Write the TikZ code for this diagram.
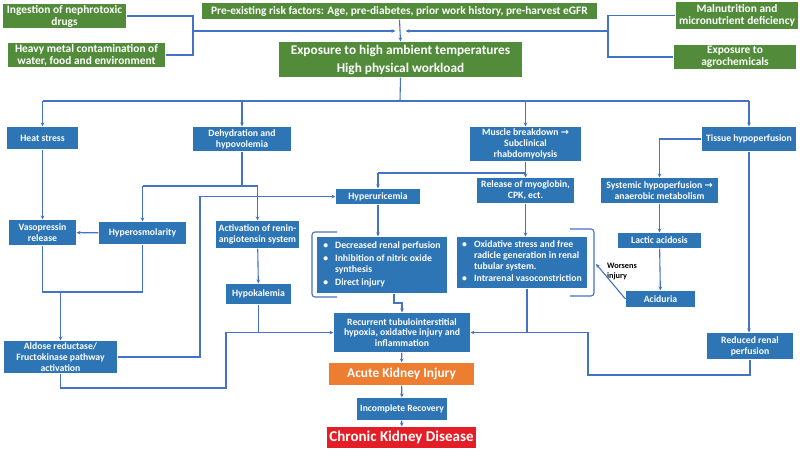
\documentclass[tikz,border=0pt]{standalone}
\usepackage{fontspec}
\setmainfont{Carlito}
\newfontfamily\arrowfont{DejaVu Sans}
\usepackage{xcolor}
\usetikzlibrary{arrows.meta,calc,positioning}

\definecolor{boxblue}{RGB}{46,117,182}
\definecolor{boxgreen}{RGB}{82,140,58}
\definecolor{lineblue}{RGB}{68,114,196}
\definecolor{akiorange}{RGB}{237,125,49}
\definecolor{ckdred}{RGB}{228,30,38}

\newcommand{\rarr}{{\arrowfont\bfseries\char"2192}}

\begin{document}
\begin{tikzpicture}[x=1pt,y=-1pt,>={Stealth[length=4pt,width=3.6pt]},
  line width=1.1pt,
  box/.style={fill=boxblue,text=white,font=\bfseries\fontsize{9.7}{10.8}\selectfont,
    align=center,inner sep=1pt,minimum width=#1},
  box/.default=60,
  green/.style={fill=boxgreen,text=white,font=\bfseries\fontsize{11.4}{12}\selectfont,
    align=center,inner sep=1pt,minimum width=#1},
  link/.style={draw=lineblue}]
\useasboundingbox (0,0) rectangle (800,452);

% top risk factors
\node[green=123,minimum height=24] (drugs) at (64.5,16) {Ingestion of nephrotoxic\\drugs};
\node[green=157,minimum height=24] (metal) at (86.5,55) {Heavy metal contamination of\\water, food and environment};
\node[green=395,minimum height=16] (risk) at (399.5,11) {Pre-existing risk factors: Age, pre-diabetes, prior work history, pre-harvest eGFR};
\node[green=243,minimum height=35,font=\bfseries\fontsize{13.3}{14}\selectfont] (expo) at (400.5,59.5)
  {Exposure to high ambient temperatures\\[4pt]High physical workload};
\node[green=122,minimum height=27] (malnut) at (737,15.5) {Malnutrition and\\micronutrient deficiency};
\node[green=122,minimum height=24] (agro) at (735,57) {Exposure to\\agrochemicals};

% first level
\node[box=71,minimum height=22] (heat) at (42.5,138) {Heat stress};
\node[box=98,minimum height=24] (dehyd) at (242,139) {Dehydration and\\hypovolemia};
\node[box=111,minimum height=34] (muscle) at (525.5,144) {Muscle breakdown \rarr\\Subclinical\\rhabdomyolysis};
\node[box=94,minimum height=24] (tissue) at (749,139) {Tissue hypoperfusion};

% second level
\node[box=67,minimum height=25] (vaso) at (42.5,232.5) {Vasopressin\\release};
\node[box=87,minimum height=22] (hyperosm) at (142.5,233) {Hyperosmolarity};
\node[box=83,minimum height=27] (activ) at (257.5,234.5) {Activation of renin-\\angiotensin system};
\node[box=65,minimum height=20] (hypok) at (258.5,294) {Hypokalemia};
\node[box=84,minimum height=15] (hyperu) at (378,196.5) {Hyperuricemia};
\node[box=97,minimum height=25] (release) at (525.5,190.5) {Release of myoglobin,\\CPK, ect.};
\node[box=117,minimum height=25] (systemic) at (659.5,190.5) {Systemic hypoperfusion \rarr\\anaerobic metabolism};
\node[box=83,minimum height=15] (lactic) at (659.5,240.5) {Lactic acidosis};
\node[box=69,minimum height=16] (aciduria) at (660.5,299) {Aciduria};

% mechanisms
\node[box=130,minimum height=56,align=left] (decr) at (382,265)
  {\begin{tabular}{@{}l@{\hspace{7pt}}l@{}}
   \textbullet & Decreased renal perfusion\\[2pt]
   \textbullet & Inhibition of nitric oxide\\
               & synthesis\\[2pt]
   \textbullet & Direct injury
   \end{tabular}};
\node[box=130,minimum height=51,align=left] (oxid) at (522,262.5)
  {\begin{tabular}{@{}l@{\hspace{7pt}}l@{}}
   \textbullet & Oxidative stress and free\\
               & radicle generation in renal\\
               & tubular system.\\[2pt]
   \textbullet & Intrarenal vasoconstriction
   \end{tabular}};
\node[box=113,minimum height=32] (aldose) at (60.5,357) {Aldose reductase/\\Fructokinase pathway\\activation};
\node[box=136,minimum height=39] (recur) at (402,332.5) {Recurrent tubulointerstitial\\hypoxia, oxidative injury and\\inflammation};
\node[box=86,minimum height=26] (reduced) at (750,346) {Reduced renal\\perfusion};

% outcome
\node[box=145,minimum height=22,fill=akiorange,font=\bfseries\fontsize{13.4}{15}\selectfont] (aki) at (401.5,374) {Acute Kidney Injury};
\node[box=90,minimum height=22,font=\bfseries\fontsize{9.6}{11}\selectfont] (incomp) at (402,409) {Incomplete Recovery};
\node[box=149,minimum height=21,fill=ckdred,font=\bfseries\fontsize{15}{17}\selectfont] (ckd) at (401.5,437.5) {Chronic Kidney Disease};

\node[font=\bfseries\fontsize{8.3}{10}\selectfont,align=left,inner sep=0pt] (worse) at (622,272) {Worsens\\injury};

% junctions
\coordinate (jl) at (193,31);
\coordinate (jr) at (608,31);
\coordinate (hub) at (400,101);
\coordinate (jd) at (242,186);
\coordinate (jv) at (60.5,292);
\coordinate (ja) at (200,0);
\coordinate (jb) at (226,388);
\coordinate (jm) at (525.5,173);
\coordinate (jc) at (394,303);
\coordinate (jo) at (527,0);
\coordinate (jr2) at (588,375);
\coordinate (brk) at (596,264);

% connectors
\draw[link] (drugs.east) -| (jl) |- (metal.east);
\draw[link,->] (jl) -- ([xshift=-4pt]risk.south |- jl);
\draw[link] (malnut.west) -| (jr) |- (agro.west);
\draw[link,->] (jr) -- ([xshift=6pt]risk.south |- jr);
\draw[link,->] (risk.south) -- (expo.north);
\draw[link] (expo.south) -- (hub);
\draw[link] (heat.north |- hub) -- (tissue.north |- hub);
\foreach \n in {heat,dehyd,muscle,tissue}
  \draw[link,->] (\n.north |- hub) -- (\n.north);
\draw[link,->] (heat) -- (vaso);
\draw[link] (dehyd.south) -- (jd);
\draw[link] (hyperosm.north |- jd) -- (activ.north |- jd);
\draw[link,->] (hyperosm.north |- jd) -- (hyperosm.north);
\draw[link,->] (activ.north |- jd) -- (activ.north);
\draw[link,->] (hyperosm) -- (vaso);
\draw[link] (vaso.south) |- (hyperosm.south |- jv) -- (hyperosm.south);
\draw[link,->] (jv) -- (aldose.north);
\draw[link,->] (activ) -- (hypok);
\draw[link,->] (aldose.east) -| (ja |- hyperu.west) -- (hyperu.west);
\draw[link,->] (aldose.south) |- (jb) |- (recur.west);
\draw[link] (hypok.south) -- (hypok.south |- recur.west);
\draw[link] (muscle.south) -- (jm);
\draw[link] (hyperu.north |- jm) -- (jm);
\draw[link,->] (hyperu.north |- jm) -- (hyperu.north);
\draw[link,->] (jm) -- (release.north);
\draw[link,->] (hyperu.south) -- (hyperu.south |- decr.north);
\draw[link,->] (decr.south -| jc) -- (jc) -| (recur.north);
\draw[link,->] (release.south) -- (release.south |- oxid.north);
\draw[link,->] (reduced.south) |- (jr2) |- (recur.east);
\draw[link] (oxid.south -| jo) -- (jo |- recur.east);
\draw[link,->] (tissue.west) -| (systemic.north);
\draw[link,->] (systemic) -- (lactic);
\draw[link,->] (lactic) -- (aciduria);
\draw[link,->] (tissue.south) -- (tissue.south |- reduced.north);
\draw[link,->] (recur) -- (aki);
\draw[link,->] (aki) -- (incomp);
\draw[link,->] (incomp) -- (ckd);
\draw[link,->] (aciduria.west) -- (brk);

% brackets round the two lists
\draw[link,rounded corners=3pt] (337,232) -- (312,232) -- (312,297) -- (337,297);
\draw[link,rounded corners=3pt] (570,229) -- (594,229) -- (594,296) -- (570,296);
\end{tikzpicture}
\end{document}
